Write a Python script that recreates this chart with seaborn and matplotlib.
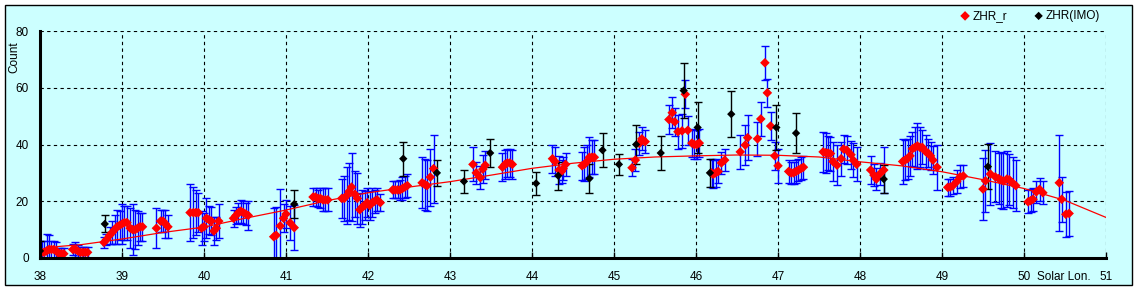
import numpy as np
import pandas as pd
import matplotlib
matplotlib.use("Agg")
import matplotlib.pyplot as plt
from matplotlib.patches import Rectangle
import seaborn as sns

# ---------------- data ----------------
zr_lon = [
    38.02, 38.05, 38.08, 38.11, 38.14, 38.17, 38.20, 38.23, 38.26, 38.29,
    38.40, 38.43, 38.46, 38.49, 38.52, 38.55, 38.58,
    38.78, 38.81, 38.85, 38.88, 38.91, 38.94, 38.97, 39.00, 39.03, 39.06, 39.10, 39.13, 39.16, 39.19, 39.22, 39.25,
    39.42, 39.47, 39.50, 39.53, 39.56,
    39.83, 39.87, 39.90, 39.93, 39.97, 40.00, 40.03, 40.06, 40.09, 40.12, 40.15, 40.18,
    40.36, 40.39, 40.42, 40.45, 40.48, 40.51, 40.54,
    40.85, 40.88, 40.93, 40.97, 41.00, 41.05, 41.10,
    41.33, 41.36, 41.39, 41.42, 41.45, 41.48, 41.51,
    41.68, 41.71, 41.74, 41.77, 41.80, 41.84, 41.87,
    41.90, 41.93, 41.96, 41.99, 42.02, 42.05, 42.08, 42.11, 42.15,
    42.30, 42.33, 42.36, 42.39, 42.42, 42.45, 42.48,
    42.66, 42.69, 42.72, 42.76, 42.80,
    43.28, 43.32, 43.37, 43.40, 43.43,
    43.64, 43.67, 43.70, 43.73, 43.76,
    44.25, 44.28, 44.33, 44.36, 44.38, 44.41,
    44.61, 44.64, 44.67, 44.70, 44.73, 44.76,
    45.22, 45.26, 45.31, 45.34, 45.38,
    45.67, 45.71, 45.74, 45.78, 45.83, 45.87, 45.90, 45.95, 45.98, 46.01, 46.04,
    46.19, 46.21, 46.24, 46.27, 46.31, 46.35,
    46.54, 46.60, 46.63, 46.75, 46.79, 46.84, 46.87, 46.91, 46.96, 47.00,
    47.13, 47.16, 47.19, 47.22, 47.25, 47.28, 47.31,
    47.55, 47.58, 47.61, 47.64, 47.67, 47.72, 47.77, 47.80, 47.84, 47.89, 47.92, 47.96,
    48.13, 48.17, 48.20, 48.24, 48.29,
    48.52, 48.55, 48.58, 48.61, 48.64, 48.67, 48.70, 48.73, 48.76, 48.80, 48.83, 48.86, 48.89, 48.94,
    49.07, 49.10, 49.13, 49.18, 49.22, 49.26,
    49.50, 49.53, 49.59, 49.65, 49.69, 49.72, 49.75, 49.79, 49.82, 49.86, 49.90,
    50.05, 50.08, 50.11, 50.15, 50.19, 50.23,
    50.43, 50.46, 50.51, 50.55,
]
zr_val = [
    2, 2, 2.5, 3, 3, 3, 2.5, 1.5, 1.5, 1.5,
    3, 3, 2.5, 2, 2, 2, 2,
    5.5, 6.5, 8, 9, 10, 11, 11.5, 12, 12.5, 12.5, 10.5, 10, 10, 10.5, 11, 11,
    10.5, 13, 13, 12, 11,
    16, 16, 16, 16, 10.5, 11, 14, 13.5, 13, 9.5, 10.5, 13,
    14, 15, 16, 16.5, 16, 15.5, 15,
    7.5, 8, 11.3, 14, 15.5, 12.4, 10.7,
    21.5, 21.5, 21, 21, 20.5, 20.5, 20.5,
    21, 21, 22, 23.5, 25, 22.5, 21,
    17, 18, 18.5, 19.5, 18.5, 19.5, 20, 20.5, 19.5,
    24, 24, 24, 24, 24.5, 25, 25.5,
    26.5, 26, 25.5, 28.5, 31.5,
    33, 30, 28.3, 31.3, 32.7,
    32, 33, 33.5, 33.5, 33,
    35, 34, 31, 30.5, 31.5, 33,
    32.5, 33, 34, 35.5, 35.5, 35.5,
    31.8, 34.5, 40.4, 42, 41,
    48.8, 51.2, 48, 44.5, 44.8, 57.7, 45, 40.5, 40, 40, 40.5,
    30, 29.5, 30, 30.5, 33.5, 34.5,
    37.4, 39.8, 42.4, 42, 49, 68.8, 58.2, 46.5, 36, 32.5,
    30.5, 30, 30, 30.5, 31, 31.5, 32,
    37.4, 37.1, 37, 36.8, 34, 32.7, 35, 38.4, 38, 36.4, 34.4, 33,
    31, 29.2, 27.8, 29.6, 31,
    34, 34.5, 35, 36, 38.5, 39, 39.5, 39, 39, 37.5, 37, 36, 34.5, 32,
    24.9, 25, 25.4, 26.9, 28.6, 28.9,
    24.3, 27.2, 29.6, 28.6, 28, 27.5, 27.1, 27.8, 27.6, 26.5, 25.5,
    19.8, 20.2, 20.7, 23.3, 24.2, 23,
    26.5, 20.7, 15.4, 15.7,
]
zr_err = [
    4, 4, 6, 5, 3, 3, 3, 2, 2, 2,
    2, 2.5, 2, 2, 2, 2, 2,
    2, 2, 3, 4, 5, 6, 5, 7, 6, 6, 7, 9, 7, 6, 5, 5,
    7, 4, 4, 5, 4,
    10, 9, 8, 7, 6, 5, 7, 5, 5, 5, 4, 6,
    3, 3, 3.5, 4, 4, 4, 5,
    10, 10, 13, 5, 5, 6, 8,
    3, 3, 3, 3.5, 4, 4, 4,
    7, 8, 10, 10, 12, 8, 9,
    6, 6, 5, 5, 5, 5, 4, 4, 3,
    3, 3, 3, 3.5, 4, 4, 4,
    9, 9, 9, 10, 12,
    6, 4, 4, 5, 5,
    5, 5, 5, 5, 5,
    5, 5, 5, 4, 4, 4,
    5, 6, 6, 7, 6, 6,
    3, 4, 4, 4, 4,
    5, 5.5, 5, 6, 6, 5, 5, 5, 5, 5, 5,
    5, 5, 5, 4, 4, 4,
    6, 7, 8, 6, 6, 6, 5, 5, 5, 6,
    4, 4, 4, 4, 4, 4, 4,
    7, 7, 6, 6, 7, 7, 6, 5, 5, 5, 6, 6,
    5, 4, 4, 4, 8,
    8, 7, 7, 7, 6, 7, 8, 7, 6, 6, 5, 5, 5, 8,
    3, 3, 3, 4, 4, 4,
    11, 11, 11, 9, 9, 10, 10, 10, 9, 9, 9,
    4, 4, 4, 4, 4, 4,
    17, 8, 8, 8,
]

imo_lon = [38.00, 38.79, 41.10, 42.43, 42.84, 43.17, 43.49, 44.05, 44.32, 44.70, 44.86,
           45.06, 45.27, 45.57, 45.85, 46.02, 46.17, 46.43, 46.98, 47.22, 48.29, 49.56]
imo_val = [2.5, 12, 19, 35, 30, 27, 37, 26.3, 29, 28, 38,
           33, 40, 37, 59, 46, 30, 50.7, 46, 44, 27.8, 32.2]
imo_err = [3.5, 3, 4.8, 6, 4.7, 4, 5, 4, 5, 5, 6,
           3.8, 7, 6, 9.7, 9, 5, 8, 8, 7, 5, 8]

fit_lon = [38.2, 38.5, 39.0, 39.5, 40.0, 40.5, 41.0, 41.5, 42.0, 42.5, 43.0, 43.5, 44.0, 44.5,
           45.0, 45.5, 46.0, 46.5, 47.0, 47.5, 48.0, 48.5, 49.0, 49.5, 50.0, 50.5, 51.0]
fit_val = [4.0, 4.7, 6.7, 9.0, 10.9, 14.0, 16.9, 20.2, 23.0, 25.0, 26.9, 29.2, 31.6, 33.4,
           34.8, 35.6, 36.0, 36.3, 36.2, 35.6, 33.9, 32.5, 30.4, 27.6, 24.5, 20.3, 14.3]

x_ticks = [38, 39, 40, 41, 42, 43, 44, 45, 46, 47, 48, 49, 50, 51]
y_ticks = [0, 20, 40, 60, 80]

assert len(zr_lon) == len(zr_val) == len(zr_err)

zr = pd.DataFrame({"lon": zr_lon, "val": zr_val, "err": zr_err})
imo = pd.DataFrame({"lon": imo_lon, "val": imo_val, "err": imo_err})
fit = pd.DataFrame({"lon": fit_lon, "val": fit_val})

# ---------------- figure ----------------
W, H = 1137, 290
plt.rcParams["font.family"] = ["Liberation Sans", "DejaVu Sans"]
fig = plt.figure(figsize=(W / 100, H / 100), dpi=100, facecolor="white")
bg = "#CCFFFF"
fig.patches.append(Rectangle((5 / W, 5 / H), 1127 / W, 280 / H, transform=fig.transFigure,
                             facecolor=bg, edgecolor="black", linewidth=1.0, zorder=-10))

ax = fig.add_axes([40 / W, 32 / H, 1066 / W, 227 / H])
ax.set_facecolor("none")

# error bars
ax.errorbar(zr["lon"], zr["val"], yerr=zr["err"], fmt="none", ecolor="#0000FF",
            elinewidth=1.0, capsize=2.6, capthick=1.0, zorder=2)
ax.errorbar(imo["lon"], imo["val"], yerr=imo["err"], fmt="none", ecolor="black",
            elinewidth=1.0, capsize=2.6, capthick=1.0, zorder=2.5)

# fit line
sns.lineplot(data=fit, x="lon", y="val", ax=ax, color="red", linewidth=0.9, zorder=3,
             legend=False)

# points
sns.scatterplot(data=zr, x="lon", y="val", ax=ax, marker="D", s=24, color="red",
                edgecolor="none", linewidth=0, zorder=4, label="ZHR_r")
sns.scatterplot(data=imo, x="lon", y="val", ax=ax, marker="D", s=18, color="black",
                edgecolor="none", linewidth=0, zorder=5, label="ZHR(IMO)")

ax.set_xlim(38, 51)
ax.set_ylim(0, 80)
ax.set_xticks(x_ticks)
ax.set_yticks(y_ticks)
ax.set_xticklabels([str(t) for t in x_ticks])
ax.set_yticklabels([str(t) for t in y_ticks])
ax.set_xlabel("")
ax.set_ylabel("")

ax.grid(True, color="black", linestyle=(0, (3, 3)), linewidth=0.8, zorder=1)
ax.set_axisbelow(True)
for s in ["top", "right"]:
    ax.spines[s].set_visible(False)
for s in ["left", "bottom"]:
    ax.spines[s].set_linewidth(2.2)
    ax.spines[s].set_color("black")
    ax.spines[s].set_zorder(6)

ax.tick_params(axis="x", direction="in", length=4, width=1, pad=9, labelsize=8.5)
ax.tick_params(axis="y", direction="in", length=0, pad=8, labelsize=8.5)

ax.annotate("Solar Lon.", xy=(51, 0), xycoords=("data", "axes fraction"),
            xytext=(-11, -9.5), textcoords="offset points", ha="right", va="top",
            fontsize=8.5)

fig.text(14 / W, 1 - 57 / H, "Count", rotation=90, ha="center", va="center", fontsize=8.5)

leg = ax.legend(ncol=2, loc="center right", bbox_to_anchor=(1106 / W, 1 - 16 / H),
                bbox_transform=fig.transFigure, frameon=False, fontsize=8.5,
                handletextpad=0.1, columnspacing=2.2, handlelength=1.0, borderpad=0)

fig.savefig("out.png", dpi=100, facecolor="white")
